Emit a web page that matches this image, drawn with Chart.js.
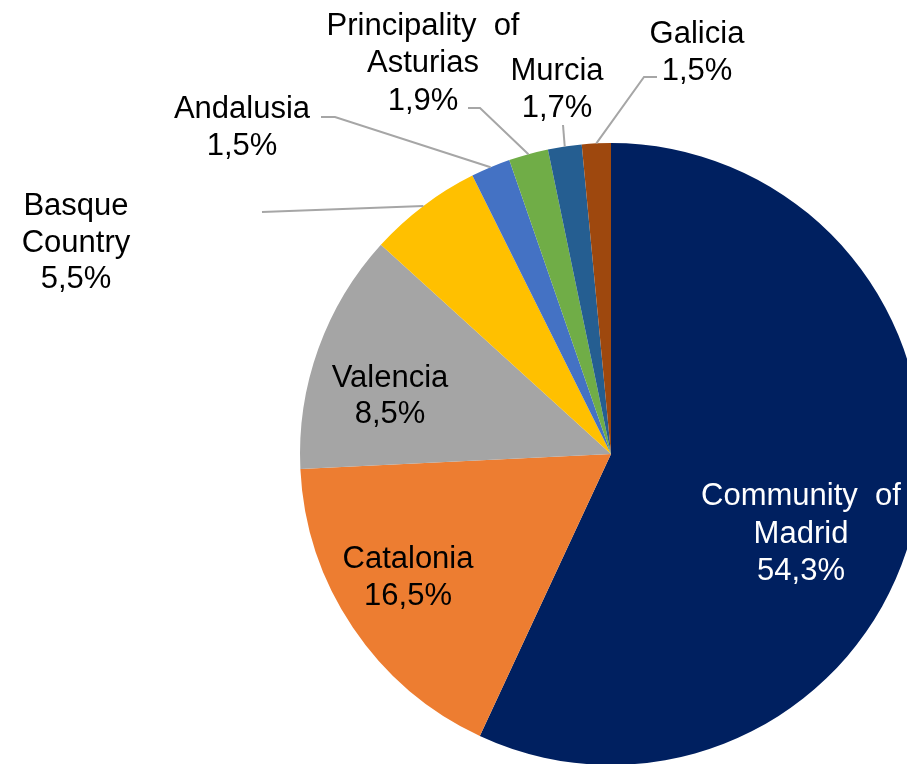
<!DOCTYPE html>
<html>
<head>
<meta charset="utf-8">
<script src="https://cdn.jsdelivr.net/npm/chart.js@4.4.1/dist/chart.umd.min.js"></script>
<style>
    html, body { margin: 0; padding: 0; background: #fff; }
    .frame { position: relative; width: 907px; height: 764px; overflow: hidden; }
    #regionPie { position: absolute; left: 0; top: 0; }
</style>
</head>
<body>
<div class="frame">
    <canvas id="regionPie" width="1000" height="900"></canvas>
</div>
<script>
// Regions, clockwise from 12 o'clock
const regions = [
    ['Community  of', 'Madrid'],
    ['Catalonia'],
    ['Valencia'],
    ['Basque', 'Country'],
    ['Andalusia'],
    ['Principality  of', 'Asturias'],
    ['Murcia'],
    ['Galicia']
];
// slice sizes as drawn (share of the circle, %)
const sliceShares = [56.9, 17.3, 12.5, 5.9, 2.05, 2.05, 1.75, 1.5];
// percentages printed in the labels
const labelPercents = ['54,3%', '16,5%', '8,5%', '5,5%', '1,5%', '1,9%', '1,7%', '1,5%'];
const sliceColors = ['#002060', '#ED7D31', '#A5A5A5', '#FFC000', '#4472C4', '#70AD47', '#255E91', '#9E480E'];

// label placement: text centre x, baselines, optional leader points (label side first)
const labelLayout = [
    { x: 801, y: [505, 543, 580], color: '#ffffff' },
    { x: 408, y: [568, 605] },
    { x: 390, y: [387, 423] },
    { x: 76, y: [215, 252, 288], leader: [[262, 212]] },
    { x: 242, y: [118, 155], leader: [[321, 117], [335, 117]] },
    { x: 423, y: [35, 72, 110], leader: [[468, 108], [480, 108]] },
    { x: 557, y: [80, 117], leader: [[563, 125]] },
    { x: 697, y: [43, 80], leader: [[657, 77], [644, 77]] }
];

const pieLabels = {
    id: 'pieLabels',
    afterDraw(chart) {
        const ctx = chart.ctx;
        const arcs = chart.getDatasetMeta(0).data;
        ctx.save();
        arcs.forEach((arc, i) => {
            const lay = labelLayout[i];
            if (lay.leader) {
                const p = arc.getProps(['x', 'y', 'startAngle', 'endAngle', 'outerRadius'], true);
                const mid = (p.startAngle + p.endAngle) / 2;
                const ex = p.x + Math.cos(mid) * p.outerRadius;
                const ey = p.y + Math.sin(mid) * p.outerRadius;
                ctx.strokeStyle = '#A6A6A6';
                ctx.lineWidth = 2;
                ctx.beginPath();
                ctx.moveTo(lay.leader[0][0], lay.leader[0][1]);
                lay.leader.slice(1).forEach(pt => ctx.lineTo(pt[0], pt[1]));
                ctx.lineTo(ex, ey);
                ctx.stroke();
            }
            const lines = regions[i].concat([labelPercents[i]]);
            ctx.fillStyle = lay.color || '#000000';
            ctx.font = '31px "Liberation Sans", Arial, sans-serif';
            ctx.textAlign = 'center';
            ctx.textBaseline = 'alphabetic';
            lines.forEach((txt, k) => ctx.fillText(txt, lay.x, lay.y[k]));
        });
        ctx.restore();
    }
};

document.addEventListener('DOMContentLoaded', function() {
    const ctx = document.getElementById('regionPie').getContext('2d');
    new Chart(ctx, {
        type: 'pie',
        data: {
            labels: regions.map(r => r.join(' ')),
            datasets: [{
                data: sliceShares,
                backgroundColor: sliceColors,
                borderColor: '#ffffff',
                borderWidth: 0
            }]
        },
        options: {
            responsive: false,
            animation: false,
            devicePixelRatio: 1,
            layout: {
                padding: { left: 300, top: 143, right: 78, bottom: 135 }
            },
            plugins: {
                legend: { display: false },
                tooltip: { enabled: false }
            }
        },
        plugins: [pieLabels]
    });
});
</script>
</body>
</html>
